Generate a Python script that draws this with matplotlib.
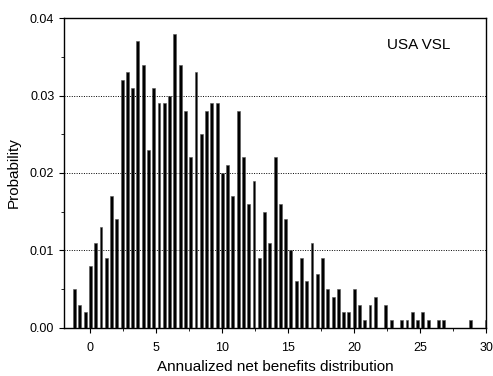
import numpy as np
import matplotlib
matplotlib.use('Agg')
import matplotlib.pyplot as plt
from matplotlib.ticker import MultipleLocator, FormatStrFormatter

# bin centres, step 0.4 from -1.2 to 30.0
bin_start = -1.2
bin_step = 0.4
probability = [
    0.005, 0.003, 0.002, 0.008, 0.011, 0.013, 0.009, 0.017, 0.014, 0.032,
    0.033, 0.031, 0.037, 0.034, 0.023, 0.031, 0.029, 0.029, 0.030, 0.038,
    0.034, 0.028, 0.022, 0.033, 0.025, 0.028, 0.029, 0.029, 0.020, 0.021,
    0.017, 0.028, 0.022, 0.016, 0.019, 0.009, 0.015, 0.011, 0.022, 0.016,
    0.014, 0.010, 0.006, 0.009, 0.006, 0.011, 0.007, 0.009, 0.005, 0.004,
    0.005, 0.002, 0.002, 0.005, 0.003, 0.001, 0.003, 0.004, 0.000, 0.003,
    0.001, 0.000, 0.001, 0.001, 0.002, 0.001, 0.002, 0.001, 0.000, 0.001,
    0.001, 0.000, 0.000, 0.000, 0.000, 0.001, 0.000, 0.000, 0.001,
]
x_centres = bin_start + bin_step * np.arange(len(probability))

plt.rcParams['font.family'] = ['Liberation Sans', 'DejaVu Sans']

fig = plt.figure(figsize=(4.93, 3.76), dpi=100)
ax = fig.add_axes([0.130, 0.128, 0.856, 0.824])

ax.bar(x_centres, probability, width=0.22, color='black', edgecolor='#555555',
       linewidth=0.4, zorder=3)

ax.set_xlim(-2, 30)
ax.set_ylim(0, 0.04)
ax.xaxis.set_major_locator(MultipleLocator(5))
ax.xaxis.set_minor_locator(MultipleLocator(2.5))
ax.yaxis.set_major_locator(MultipleLocator(0.01))
ax.yaxis.set_minor_locator(MultipleLocator(0.005))
ax.yaxis.set_major_formatter(FormatStrFormatter('%.2f'))
ax.tick_params(which='both', direction='out', top=False, right=False, labelsize=9)
ax.tick_params(which='major', length=3.5)
ax.tick_params(which='minor', length=2.5)
ax.tick_params(axis='x', which='major', pad=7)

ax.grid(axis='y', which='major', linestyle=(0, (1, 1.5)), color='black',
        linewidth=0.7, zorder=1)

for sp in ax.spines.values():
    sp.set_linewidth(1.0)

ax.set_xlabel('Annualized net benefits distribution', fontsize=11, labelpad=4)
ax.set_ylabel('Probability', fontsize=11, labelpad=7)
ax.text(0.915, 0.935, 'USA VSL', transform=ax.transAxes, ha='right', va='top', fontsize=11)

fig.savefig('out.png', dpi=100)
